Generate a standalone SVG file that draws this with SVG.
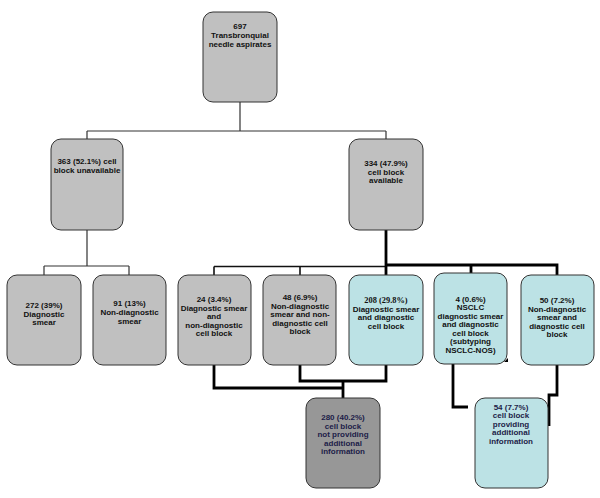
<svg xmlns="http://www.w3.org/2000/svg" width="600" height="498" viewBox="0 0 600 498">
<style>
.box{stroke:#333;stroke-width:1}
.g{fill:#c0c0c0}
.b{fill:#bce2e5}
.d{fill:#979797}
text{font-family:"Liberation Sans",Arial,sans-serif;font-weight:bold;font-size:8px;text-anchor:middle;fill:#111}
.navy{fill:#1c1c48}
.serif{font-family:"Liberation Serif","Times New Roman",serif;font-weight:bold;font-size:8.4px}
.thin{fill:none;stroke:#333;stroke-width:1.2}
.thick{fill:none;stroke:#000;stroke-width:2.8}
</style>
<rect width="600" height="498" fill="#fff"/>
<g id="connectors">
<path class="thin" d="M240,102V131M87,131H386M87,131V139M386,131V139"/>
<path class="thin" d="M87,230V266M44,266H129M44,266V275M129,266V275"/>
<path class="thin" style="stroke:#111;stroke-width:1.6" d="M214,266.5H386M214,266.5V275M300,266.5V275"/>
<path class="thick" d="M386,230V265H471M386,265V275M471,265V273M471,265H557V275"/>
<path class="thick" d="M214,365V388H343M300,365V381H386V365M343,381V398"/>
<path class="thick" d="M453,364V407H468"/>
<path class="thick" d="M557,365V395H549V426"/>
<path d="M504,362L508,358L508,362Z" fill="#000"/>
</g>
<g id="n697"><rect class="box g" x="203" y="12" width="74" height="90" rx="10"/>
<text x="240" y="29">697</text><text x="240" y="38">Transbronquial</text><text x="240" y="47">needle aspirates</text></g>
<g id="n363"><rect class="box g" x="51" y="139" width="72" height="91" rx="10"/>
<text x="87" y="164">363 (52.1%) cell</text><text x="87" y="172.8">block unavailable</text></g>
<g id="n334"><rect class="box g" x="349" y="139" width="74" height="91" rx="10"/>
<text x="386" y="166">334 (47.9%)</text><text x="386" y="174.6">cell block</text><text x="386" y="183.2">available</text></g>
<g id="n272"><rect class="box g" x="7" y="275" width="74" height="90" rx="10"/>
<text x="44" y="308">272 (39%)</text><text x="44" y="316.6">Diagnostic</text><text x="44" y="325.2">smear</text></g>
<g id="n91"><rect class="box g" x="93" y="275" width="73" height="90" rx="10"/>
<text x="129.5" y="306">91 (13%)</text><text x="129.5" y="314.8">Non-diagnostic</text><text x="129.5" y="323.6">smear</text></g>
<g id="n24"><rect class="box g" x="178" y="275" width="73" height="90" rx="10"/>
<text x="214" y="302">24 (3.4%)</text><text x="214" y="310.6">Diagnostic smear</text><text x="214" y="319.2">and</text><text x="214" y="327.8">non-diagnostic</text><text x="214" y="336.4">cell block</text></g>
<g id="n48"><rect class="box g" x="263" y="275" width="73" height="90" rx="10"/>
<text x="300" y="300">48 (6.9%)</text><text x="300" y="308.6">Non-diagnostic</text><text x="300" y="317.2">smear and non-</text><text x="300" y="325.8">diagnostic cell</text><text x="300" y="334.4">block</text></g>
<g id="n208"><rect class="box b" x="349" y="275" width="74" height="90" rx="10"/>
<text class="serif" x="386" y="303">208 (29.8%)</text><text x="386" y="311.6">Diagnostic smear</text><text x="386" y="320.2">and diagnostic</text><text x="386" y="328.8">cell block</text></g>
<g id="n4"><rect class="box b" x="434" y="273" width="73" height="91" rx="10"/>
<text x="470.5" y="301.5">4 (0.6%)</text><text x="470.5" y="310">NSCLC</text><text x="470.5" y="318.5">diagnostic smear</text><text x="470.5" y="327">and diagnostic</text><text x="470.5" y="335.5">cell block</text><text x="470.5" y="344">(subtyping</text><text x="470.5" y="352.5">NSCLC-NOS)</text></g>
<g id="n50"><rect class="box b" x="521" y="275" width="73" height="90" rx="10"/>
<text x="557" y="303">50 (7.2%)</text><text x="557" y="311.6">Non-diagnostic</text><text x="557" y="320.2">smear and</text><text x="557" y="328.8">diagnostic cell</text><text x="557" y="337.4">block</text></g>
<g id="n280"><rect class="box d" x="306" y="398" width="74" height="90" rx="10"/>
<text class="navy" x="343" y="420">280 (40.2%)</text><text class="navy" x="343" y="428.6">cell block</text><text class="navy" x="343" y="437.2">not providing</text><text class="navy" x="343" y="445.8">additional</text><text class="navy" x="343" y="454.4">information</text></g>
<g id="n54"><rect class="box b" x="475" y="398" width="73" height="90" rx="10"/>
<text class="navy" x="511" y="409.5">54 (7.7%)</text><text class="navy" x="511" y="418.1">cell block</text><text class="navy" x="511" y="426.7">providing</text><text class="navy" x="511" y="435.3">additional</text><text class="navy" x="511" y="443.9">information</text></g>
</svg>
